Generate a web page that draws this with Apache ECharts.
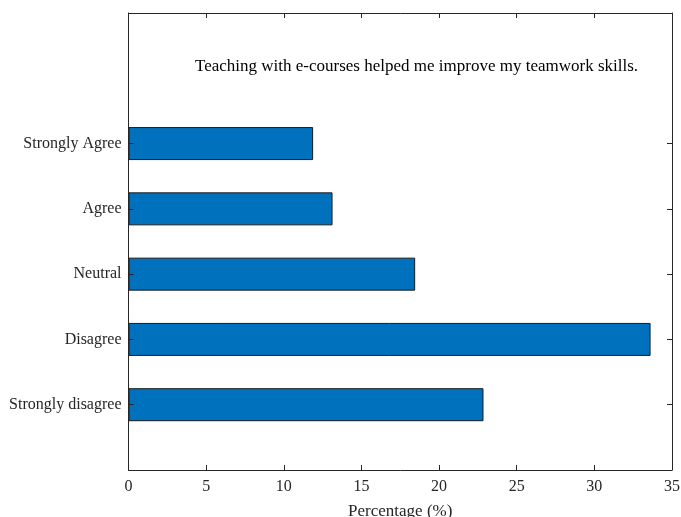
<!DOCTYPE html>
<html>
<head>
<meta charset="utf-8">
<script src="https://cdn.jsdelivr.net/npm/echarts@6/dist/echarts.min.js"></script>
<style>html,body{margin:0;padding:0;background:#fff}#c{width:681px;height:517px}</style>
</head>
<body>
<div id="c"></div>
<script>
var categories = ['', 'Strongly disagree', 'Disagree', 'Neutral', 'Agree', 'Strongly Agree', '', ''];
var values = [null, 22.86, 33.62, 18.46, 13.14, 11.89, null, null];
var xTicks = [0, 5, 10, 15, 20, 25, 30, 35];
var chartTitle = 'Teaching with e-courses helped me improve my teamwork skills.';
var xName = 'Percentage (%)';

var FONT = '"Liberation Serif", "Times New Roman", serif';
var AX = '#262626';
var chart = echarts.init(document.getElementById('c'));
var tickShow = function (i, v) { return v !== ''; };
chart.setOption({
  animation: false,
  textStyle: { fontFamily: FONT },
  grid: { left: 128.5, right: 9, top: 13, bottom: 47, containLabel: false, outerBoundsMode: 'none' },
  graphic: [{
    type: 'text', left: 195, top: 58,
    style: { text: chartTitle, font: '17px ' + FONT, fill: '#000' }
  }],
  xAxis: [{
    type: 'value', min: xTicks[0], max: xTicks[xTicks.length - 1], interval: 5,
    position: 'bottom', z: 10,
    name: xName, nameLocation: 'middle', nameGap: 33,
    nameTextStyle: { fontFamily: FONT, fontSize: 17, color: '#262626' },
    axisLine: { show: true, onZero: false, lineStyle: { color: AX, width: 1 } },
    axisTick: { show: true, inside: true, length: 5, lineStyle: { color: AX } },
    axisLabel: { fontFamily: FONT, fontSize: 16, color: '#262626', margin: 9 },
    splitLine: { show: false }
  }, {
    type: 'value', min: xTicks[0], max: xTicks[xTicks.length - 1], interval: 5,
    position: 'top', z: 10,
    axisLine: { show: true, onZero: false, lineStyle: { color: AX, width: 1 } },
    axisTick: { show: true, inside: true, length: 5, lineStyle: { color: AX } },
    axisLabel: { show: false },
    splitLine: { show: false }
  }],
  yAxis: [{
    type: 'category', data: categories, boundaryGap: false, position: 'left', z: 10,
    axisLine: { show: true, onZero: false, lineStyle: { color: AX, width: 1 } },
    axisTick: { show: true, inside: true, length: 5, interval: tickShow, lineStyle: { color: AX } },
    axisLabel: { fontFamily: FONT, fontSize: 16, color: '#262626', margin: 7, interval: 0 },
    splitLine: { show: false }
  }, {
    type: 'category', data: categories, boundaryGap: false, position: 'right', z: 10,
    axisLine: { show: true, onZero: false, lineStyle: { color: AX, width: 1 } },
    axisTick: { show: true, inside: true, length: 5, interval: tickShow, lineStyle: { color: AX } },
    axisLabel: { show: false },
    splitLine: { show: false }
  }],
  series: [{
    type: 'bar', xAxisIndex: 0, yAxisIndex: 0, data: values, barWidth: 33, z: 2,
    itemStyle: { color: '#0072BD', borderColor: '#1a1a1a', borderWidth: 1 }
  }]
});
</script>
</body>
</html>
